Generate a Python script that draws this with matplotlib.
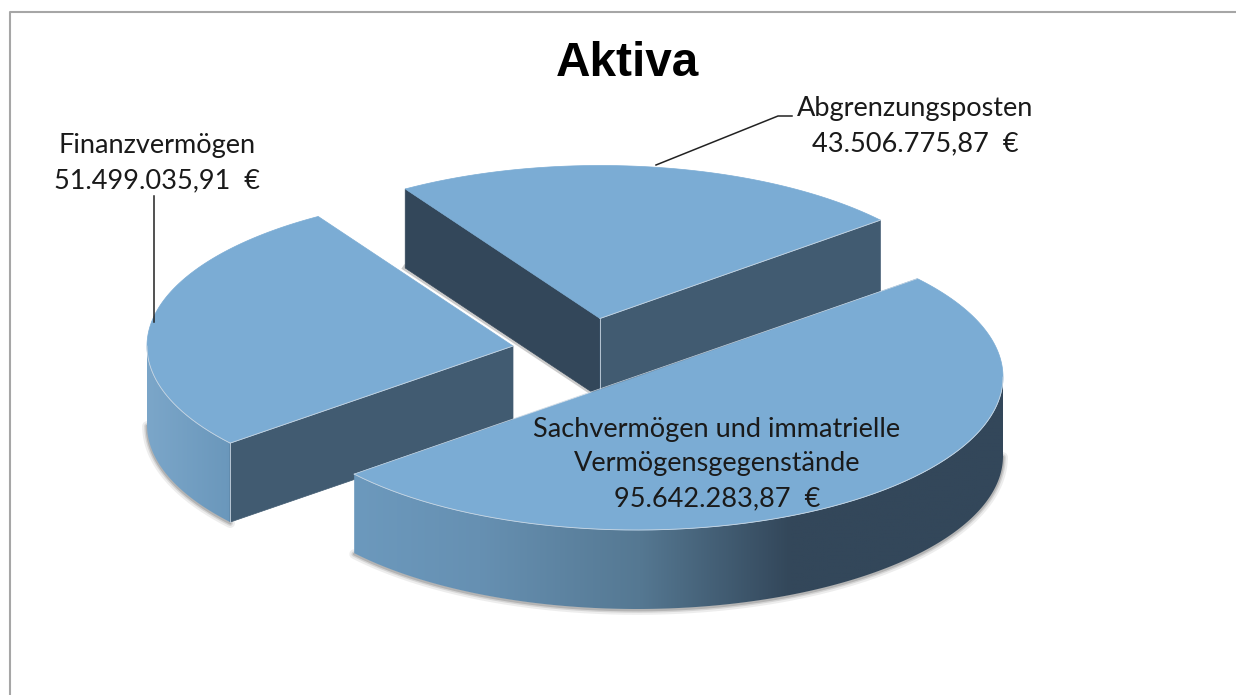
import numpy as np
import matplotlib
matplotlib.use("Agg")
import matplotlib.pyplot as plt
from matplotlib.colors import to_rgb
from matplotlib.patches import Polygon

# datos
nombres = ["Sachvermögen und immatrielle\nVermögensgegenstände", "Finanzvermögen", "Abgrenzungsposten"]
valores = [95642283.87, 51499035.91, 43506775.87]

# geometry of the projected pie, in pixels of the picture
centros = [(637, 377), (513, 346), (600, 318.5)]
RX, RY = 366, 153
ALTO = 79
INICIO = 40.0

C_TOP = "#7bacd4"
C_OSCURO = "#33475a"
C_MEDIO = "#415b71"
C_BORDE = "#c9d6e2"


def arco(c, t0, t1, dy=0):
    t = np.radians(np.linspace(t0, t1, 200))
    return np.column_stack([c[0] + RX * np.cos(t), c[1] - RY * np.sin(t) + dy])


def punto(c, t, dy=0):
    return arco(c, t, t, dy)[0]


def pared(ax, p, q, color):
    pts = [p, q, (q[0], q[1] + ALTO), (p[0], p[1] + ALTO)]
    ax.add_patch(Polygon(pts, closed=True, fc=color, ec=color, lw=0.5))


def pared_curva(ax, c, t0, t1, xs, colores):
    """Outer wall between t0 and t1, filled with a horizontal gradient."""
    sup = arco(c, t0, t1)
    inf = arco(c, t0, t1, ALTO)
    pts = np.vstack([sup, inf[::-1]])
    for lw, a in [(7, 0.10), (4, 0.16), (2, 0.25)]:
        ax.plot(inf[:, 0], inf[:, 1] + 1, color="#555555", lw=lw, alpha=a, solid_capstyle="round")
    x0, x1 = pts[:, 0].min(), pts[:, 0].max()
    rx = np.linspace(x0, x1, 512)
    rgb = np.array([to_rgb(k) for k in colores])
    img = np.stack([np.interp(rx, xs, rgb[:, i]) for i in range(3)], axis=-1)[None, :, :]
    y0, y1 = pts[:, 1].min(), pts[:, 1].max()
    im = ax.imshow(img, extent=(x0, x1, y1, y0), aspect="auto", interpolation="bilinear")
    clip = Polygon(pts, closed=True, transform=ax.transData)
    im.set_clip_path(clip)


def cara_superior(ax, c, t0, t1):
    pts = np.vstack([[c], arco(c, t0, t1)])
    ax.add_patch(Polygon(pts, closed=True, fc=C_TOP, ec=C_TOP, lw=0.5))


fig = plt.figure(figsize=(12.36, 6.95), dpi=100)
ax = fig.add_axes([0, 0, 1, 1])

# wedge angles come from the values, clockwise from INICIO
total = sum(valores)
barridos = [v / total * 360 for v in valores]
t_sach = (INICIO, INICIO - barridos[0])
t_fin = (t_sach[1], t_sach[1] - barridos[1])
t_abg = (t_fin[1], t_fin[1] - barridos[2])
c_sach, c_fin, c_abg = centros

# Abgrenzungsposten (back)
p_izq = punto(c_abg, t_abg[0])
p_der = punto(c_abg, t_abg[1])
ax.plot([p_izq[0], c_abg[0]], [p_izq[1] + ALTO, c_abg[1] + ALTO], color="#555555", lw=4, alpha=0.3)
pared(ax, c_abg, p_izq, C_OSCURO)
pared(ax, c_abg, p_der, C_MEDIO)
cara_superior(ax, c_abg, *t_abg)
ax.plot([c_abg[0], c_abg[0]], [c_abg[1], c_abg[1] + ALTO], color=C_BORDE, lw=0.6)
ax.plot([c_abg[0], p_der[0]], [c_abg[1], p_der[1]], color=C_BORDE, lw=0.6)

# Finanzvermögen
p_fin = punto(c_fin, t_fin[0])
pared_curva(ax, c_fin, t_fin[0], -180, [148, 231], ["#7ba6c9", "#6a97bb"])
pared(ax, c_fin, p_fin, C_MEDIO)
cara_superior(ax, c_fin, *t_fin)
ax.plot([c_fin[0], p_fin[0]], [c_fin[1], p_fin[1]], color=C_BORDE, lw=0.6)
ax.plot([p_fin[0], p_fin[0]], [p_fin[1], p_fin[1] + ALTO], color=C_BORDE, lw=0.6)
borde = arco(c_fin, t_fin[0], -180)
ax.plot(borde[:, 0], borde[:, 1], color=C_BORDE, lw=0.6)

# Sachvermögen (front)
pared_curva(ax, c_sach, t_sach[1], 0, [355, 480, 640, 790, 1002],
            ["#6c99bd", "#6690b2", "#557892", C_OSCURO, C_OSCURO])
cara_superior(ax, c_sach, *t_sach)
borde = arco(c_sach, t_sach[1], 0)
ax.plot(borde[:, 0], borde[:, 1], color=C_BORDE, lw=0.6)
p0, p1 = punto(c_sach, t_sach[0]), punto(c_sach, t_sach[1])
ax.plot([p0[0], p1[0]], [p0[1], p1[1]], color=C_BORDE, lw=0.5)

# paint in the order of creation, images and lines included
for z, art in enumerate(ax.get_children()):
    art.set_zorder(z * 0.01 + 1)

# leader lines
ax.plot([154, 154], [196, 322], color="#222222", lw=1.1, zorder=10)
ax.plot([656, 778, 792], [165, 116, 116], color="#222222", lw=1.1, zorder=10)


def etiqueta(v):
    txt = f"{v:,.2f}".replace(",", "#").replace(".", ",").replace("#", ".")
    return txt + "  €"


fuente = dict(family="Lato", fontsize=19.5, color="#1a1a1a", ha="center", va="center", linespacing=1.5, zorder=11)
ax.text(717, 464, nombres[0] + "\n" + etiqueta(valores[0]), **fuente)
ax.text(157, 163, nombres[1] + "\n" + etiqueta(valores[1]), **fuente)
ax.text(915, 126, nombres[2] + "\n" + etiqueta(valores[2]), **fuente)

ax.text(627, 63.5, "Aktiva", family="Liberation Sans", fontweight="bold", fontsize=34.4,
        color="black", ha="center", va="center", zorder=11)

# marco del gráfico
ax.plot([10, 10, 1236], [695, 12, 12], color="#a6a6a6", lw=1.5, zorder=11)

ax.set_xlim(0, 1236)
ax.set_ylim(695, 0)
ax.axis("off")
fig.savefig("out.png", dpi=100)
